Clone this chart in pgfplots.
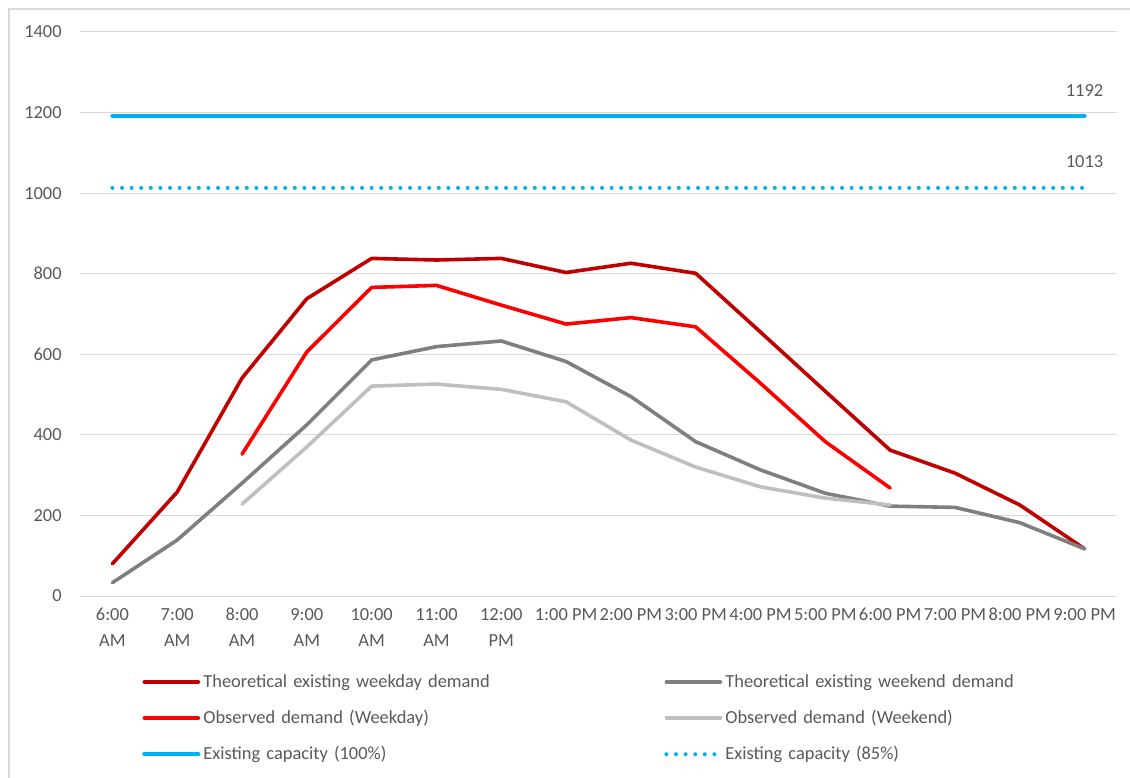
\documentclass[border=0pt]{standalone}
\usepackage{pgfplots}
\pgfplotsset{compat=1.18}
\usepackage{fontspec}
\setmainfont{Carlito}

\definecolor{darkred}{HTML}{C00000}
\definecolor{brightred}{HTML}{FF0000}
\definecolor{darkgrey}{HTML}{7F7F7F}
\definecolor{lightgrey}{HTML}{BFBFBF}
\definecolor{capblue}{HTML}{00B0F0}
\definecolor{gridgrey}{HTML}{D9D9D9}
\definecolor{labelgrey}{HTML}{595959}

\begin{document}
\fontsize{18.5}{26}\selectfont
\begin{tikzpicture}
\path[use as bounding box] (0bp,0bp) rectangle (1130bp,778bp);
% chart frame
\draw[gridgrey, line width=1.2bp] (9bp,-20bp) rectangle (1150bp,769bp);
\begin{axis}[
  at={(80bp,182bp)}, anchor=south west,
  scale only axis, width=1037bp, height=564bp,
  xmin=-0.5, xmax=15.5, ymin=0, ymax=1400,
  xtick={0,...,15},
  xticklabels={{6:00\\AM},{7:00\\AM},{8:00\\AM},{9:00\\AM},{10:00\\AM},{11:00\\AM},{12:00\\PM},
    {1:00 PM},{2:00 PM},{3:00 PM},{4:00 PM},{5:00 PM},{6:00 PM},{7:00 PM},{8:00 PM},{9:00 PM}},
  xticklabel style={align=center, text=labelgrey, yshift=-6bp},
  ytick={0,200,...,1400},
  yticklabel style={text=labelgrey, xshift=-12bp},
  /pgf/number format/assume math mode=true,
  /pgf/number format/1000 sep={},
  scaled y ticks=false,
  tick style={draw=none},
  axis line style={draw=none},
  ymajorgrids, grid style={gridgrey, line width=1bp},
  every axis plot/.append style={line width=3.6bp, line cap=round, line join=round},
  legend columns=2,
  legend cell align=left,
  legend image code/.code={\draw[#1] (0bp,0bp) -- (54bp,0bp);},
  legend style={at={(0.0598,-0.135)}, anchor=north west, draw=none, fill=none,
    inner sep=0pt, row sep=16bp, text=labelgrey,
    nodes={text width=458bp, inner xsep=3bp, align=left}},
]
% theoretical existing weekday demand
\addplot[darkred] coordinates {
 (0,80) (1,258) (2,541) (3,738) (4,838) (5,834) (6,838) (7,803)
 (8,826) (9,801) (10,655) (11,508) (12,362) (13,305) (14,226) (15,117)};
\addlegendentry{Theoretical existing weekday demand}
% theoretical existing weekend demand
\addplot[darkgrey] coordinates {
 (0,33) (1,139) (2,280) (3,425) (4,586) (5,619) (6,633) (7,582)
 (8,495) (9,383) (10,313) (11,255) (12,223) (13,220) (14,182) (15,117)};
\addlegendentry{Theoretical existing weekend demand}
% observed weekday demand
\addplot[brightred] coordinates {
 (2,352) (3,606) (4,766) (5,771) (6,722) (7,675) (8,691) (9,668)
 (10,528) (11,383) (12,268)};
\addlegendentry{Observed demand (Weekday)}
% observed weekend demand
\addplot[lightgrey] coordinates {
 (2,228) (3,370) (4,521) (5,526) (6,513) (7,482) (8,387) (9,320)
 (10,271) (11,243) (12,226)};
\addlegendentry{Observed demand (Weekend)}
% capacity
\addplot[capblue, line width=4.2bp] coordinates {(0,1192) (15,1192)};
\addlegendentry{Existing capacity (100\%)}
\addplot[capblue, line width=4bp, dash pattern=on 0bp off 9.6bp] coordinates {(0,1013) (15,1013)};
\addlegendentry{Existing capacity (85\%)}
% end labels of the capacity lines
\addplot[draw=none, forget plot, nodes near coords,
  every node near coord/.append style={anchor=south, inner sep=0pt, yshift=17bp, text=labelgrey}]
  coordinates {(15,1192)};
\addplot[draw=none, forget plot, nodes near coords,
  every node near coord/.append style={anchor=south, inner sep=0pt, yshift=18bp, text=labelgrey}]
  coordinates {(15,1013)};
\end{axis}
\end{tikzpicture}
\end{document}
